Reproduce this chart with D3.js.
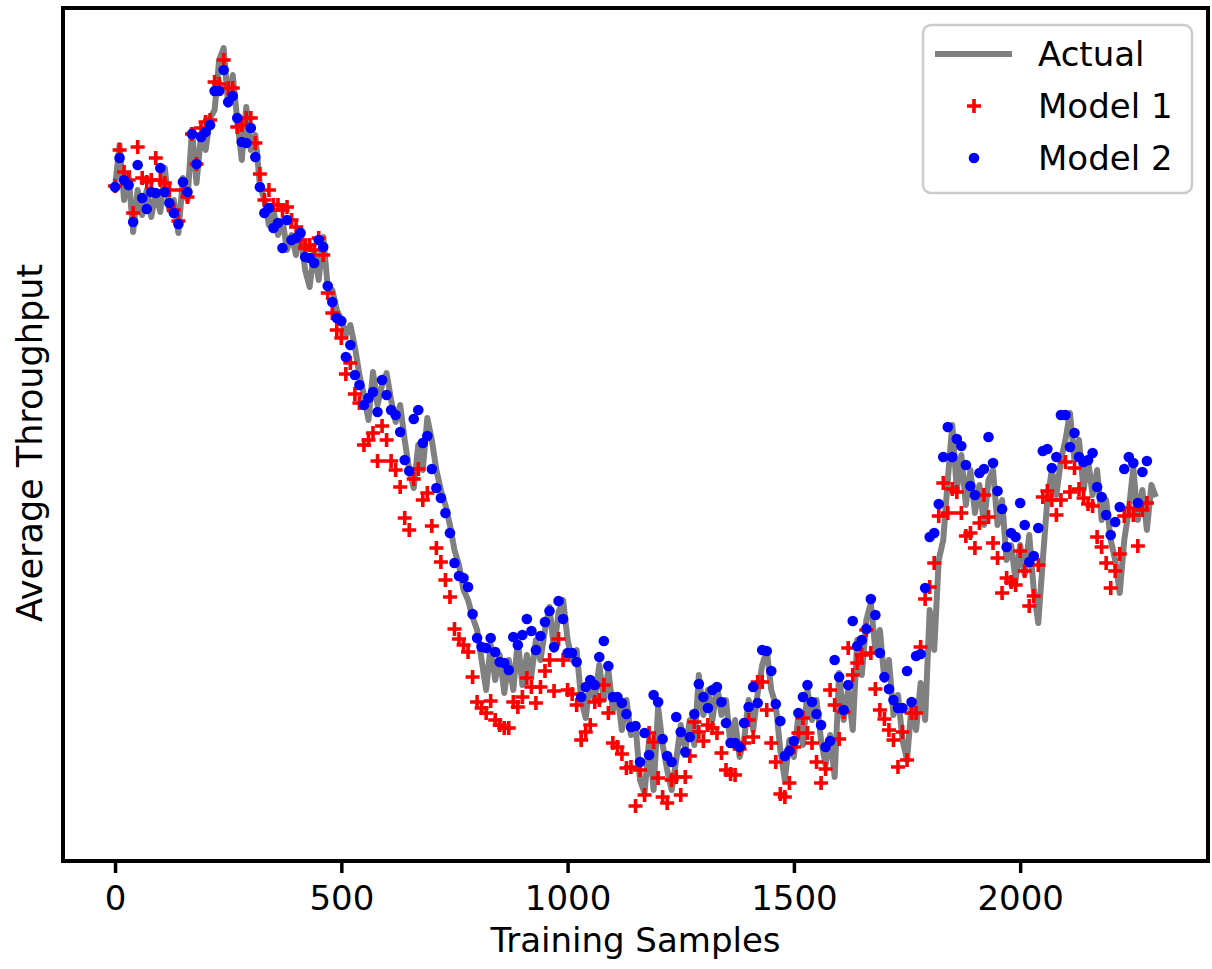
<!DOCTYPE html>
<html>
<head>
<meta charset="utf-8">
<script src="https://cdnjs.cloudflare.com/ajax/libs/d3/7.8.5/d3.min.js"></script>
<style>
  body { margin: 0; background: #fff; }
  text { font-family: "DejaVu Sans", sans-serif; fill: #000; }
</style>
</head>
<body>
<div id="chart"></div>
<script>
// values (arbitrary throughput units, y axis has no ticks)
const actualStep = 10;   // one actual point every 10 samples
const markerStep = 10;   // model predictions every 10 samples

const actual = [
  813,855,800,825,768,810,785,810,783,808,788,832,790,800,767,822,800,870,817,865,
  850,882,890,940,952,895,925,880,840,893,850,865,815,800,775,790,765,780,750,765,
  745,770,730,713,750,720,763,713,710,690,680,665,675,653,625,605,580,628,595,615,
  627,600,578,595,560,530,512,555,530,582,560,530,510,495,475,450,435,410,400,383,
  370,340,310,355,320,345,307,340,310,360,315,345,325,360,340,370,393,350,388,400,
  360,340,350,300,282,320,300,335,300,330,290,305,270,300,265,275,220,207,260,210,
  293,255,230,210,240,275,250,280,255,325,285,310,280,315,285,300,255,280,243,260,
  300,270,307,335,350,310,295,250,220,260,243,285,255,310,280,300,260,235,265,223,
  327,280,310,270,360,325,380,397,350,370,320,340,285,305,260,240,295,270,317,280,
  390,350,440,460,520,575,510,545,495,530,487,515,475,520,530,475,500,440,455,420,
  455,425,465,410,377,440,500,530,505,540,560,587,540,560,510,540,505,530,480,500,
  460,440,407,460,490,532,480,510,470,515,503
];

const model1 = [
  814,850,828,820,787,853,822,818,820,842,820,817,810,790,779,810,803,866,836,872,
  878,880,918,916,940,912,912,873,875,882,882,857,826,800,810,795,795,790,793,780,
  773,760,752,755,750,762,745,707,687,670,662,626,637,606,597,555,560,567,539,574,
  560,539,530,513,482,470,521,531,500,507,474,452,438,420,403,371,361,355,348,323,
  298,292,287,299,280,275,272,272,298,293,303,322,313,297,313,329,340,309,361,340,
  310,306,295,260,268,275,298,300,315,287,257,253,246,232,233,194,230,205,267,258,
  222,203,197,220,223,205,223,244,278,268,259,275,272,267,247,230,226,225,251,257,
  280,263,318,318,290,257,238,206,203,217,253,267,282,267,257,238,217,231,310,295,
  261,288,352,325,337,345,370,347,311,290,281,270,260,233,268,240,287,287,353,401,
  413,437,484,517,487,511,508,487,464,467,452,477,505,483,457,442,407,422,418,415,
  449,429,394,404,435,503,509,500,485,500,538,508,532,511,502,496,494,463,453,437,
  412,429,446,484,492,485,454,490,497
];

const model2 = [
  813,842,820,815,778,835,802,791,808,807,832,808,797,787,776,818,808,866,836,863,
  868,875,909,909,930,898,904,882,858,857,872,843,813,787,792,772,777,752,780,760,
  762,767,743,742,737,760,753,714,698,682,679,643,655,625,615,595,602,608,588,620,
  605,590,585,568,540,529,581,590,557,564,531,512,502,487,467,437,424,422,413,386,
  362,353,352,362,348,338,337,330,363,355,365,381,369,350,364,378,389,353,399,381,
  347,347,338,303,313,320,315,343,359,334,303,303,297,286,273,274,238,267,245,305,
  298,261,244,238,283,268,248,263,286,316,303,292,310,313,298,277,257,257,253,277,
  293,313,297,350,349,329,296,279,244,249,259,287,303,315,298,286,275,253,259,340,
  323,290,315,379,354,360,371,401,385,347,323,311,300,292,292,329,298,344,346,412,
  463,467,496,543,573,543,561,554,535,514,505,527,531,563,537,509,491,453,467,463,
  497,475,438,444,472,549,551,532,543,585,585,553,567,543,538,540,547,513,503,485,
  465,478,493,531,543,537,497,528,539
];

const xTicks = [0, 500, 1000, 1500, 2000];
const seriesNames = ["Actual", "Model 1", "Model 2"];

const W = 1212, H = 969;
const m = { left: 63, right: 1208, top: 8, bottom: 861 };

const svg = d3.select("#chart").append("svg")
  .attr("width", W)
  .attr("height", H);

const x = d3.scaleLinear().domain([-115, 2415]).range([m.left, m.right]);
const y = d3.scaleLinear().domain([139, 992]).range([m.bottom, m.top]);

const plot = svg.append("g");

// actual series - thick grey line
const line = d3.line()
  .x((d, i) => x(i * actualStep))
  .y(d => y(d));

plot.append("path")
  .datum(actual)
  .attr("d", line)
  .attr("fill", "none")
  .attr("stroke", "#808080")
  .attr("stroke-width", 6)
  .attr("stroke-linejoin", "round");

// model 1 - red plus markers
plot.append("g")
  .selectAll("path")
  .data(model1)
  .enter().append("path")
  .attr("transform", (d, i) => `translate(${x(i * markerStep)},${y(d)})`)
  .attr("d", "M-7,0H7M0,-7V7")
  .attr("stroke", "#ff0000")
  .attr("stroke-width", 3.6)
  .attr("fill", "none");

// model 2 - blue dots
plot.append("g")
  .selectAll("circle")
  .data(model2)
  .enter().append("circle")
  .attr("cx", (d, i) => x(i * markerStep))
  .attr("cy", d => y(d))
  .attr("r", 5.3)
  .attr("fill", "#0000ff");

// frame
svg.append("rect")
  .attr("x", m.left)
  .attr("y", m.top)
  .attr("width", m.right - m.left)
  .attr("height", m.bottom - m.top)
  .attr("fill", "none")
  .attr("stroke", "#000")
  .attr("stroke-width", 4);

// x axis
const xAxis = svg.append("g")
  .attr("transform", `translate(0,${m.bottom + 1})`)
  .call(d3.axisBottom(x).tickValues(xTicks).tickFormat(d3.format("d"))
    .tickSize(11).tickPadding(13));
xAxis.select(".domain").remove();
xAxis.selectAll(".tick line").attr("stroke", "#000").attr("stroke-width", 3.5);
xAxis.selectAll(".tick text")
  .attr("font-size", 34)
  .attr("font-family", "DejaVu Sans, sans-serif");

// axis labels
svg.append("text")
  .attr("x", (m.left + m.right) / 2)
  .attr("y", 952)
  .attr("text-anchor", "middle")
  .attr("font-size", 34)
  .text("Training Samples");

svg.append("text")
  .attr("transform", `translate(42,443) rotate(-90)`)
  .attr("text-anchor", "middle")
  .attr("font-size", 35)
  .text("Average Throughput");

// legend
const lg = svg.append("g");
lg.append("rect")
  .attr("x", 923).attr("y", 25)
  .attr("width", 269).attr("height", 168)
  .attr("rx", 8)
  .attr("fill", "#fff").attr("fill-opacity", 0.8)
  .attr("stroke", "#cccccc").attr("stroke-width", 2.5);

const rowY = [54, 106, 158];
lg.append("line")
  .attr("x1", 935).attr("x2", 1012)
  .attr("y1", rowY[0]).attr("y2", rowY[0])
  .attr("stroke", "#808080").attr("stroke-width", 6);
lg.append("path")
  .attr("transform", `translate(974,${rowY[1]})`)
  .attr("d", "M-7,0H7M0,-7V7")
  .attr("stroke", "#ff0000").attr("stroke-width", 3.6);
lg.append("circle")
  .attr("cx", 974).attr("cy", rowY[2]).attr("r", 5.3)
  .attr("fill", "#0000ff");

lg.selectAll("text.lbl")
  .data(seriesNames)
  .enter().append("text")
  .attr("class", "lbl")
  .attr("x", 1038)
  .attr("y", (d, i) => rowY[i] + 12)
  .attr("font-size", 34)
  .text(d => d);
</script>
</body>
</html>
